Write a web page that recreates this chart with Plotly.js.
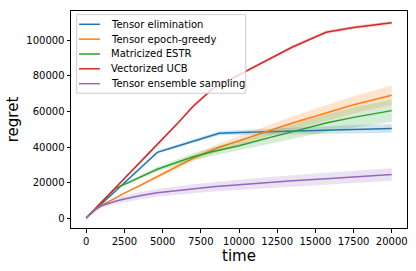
<!DOCTYPE html>
<html>
<head>
<meta charset="utf-8">
<script src="https://cdn.plot.ly/plotly-3.0.1.min.js"></script>
<style>html,body{margin:0;padding:0;background:#fff;}#chart{width:416px;height:271px;}</style>
</head>
<body>
<div id="chart"></div>
<script>
const time = [0, 500, 1000, 1900, 2500, 3500, 4650, 6000, 7000, 8300, 8700, 10000, 12000, 13500, 15700, 17500, 20000];

const seriesNames = ["Tensor elimination", "Tensor epoch-greedy", "Matricized ESTR", "Vectorized UCB", "Tensor ensemble sampling"];

const elimination = [0, 4000, 7950, 15100, 19900, 27850, 37000, 40600, 43300, 46800, 47800, 48200, 48700, 49100, 49600, 50000, 50500];
const eliminationErr = [0, 100, 200, 300, 400, 500, 700, 900, 1000, 1200, 1200, 1400, 1700, 1900, 2200, 2400, 2500];

const epochGreedy = [0, 3900, 7100, 11500, 14000, 18300, 23300, 29300, 33700, 38500, 39900, 43500, 49300, 53500, 59200, 63800, 69200];
const epochGreedyErr = [0, 150, 300, 500, 600, 800, 1100, 1400, 1700, 2100, 2200, 2600, 3200, 3700, 4300, 4800, 5400];

const estr = [0, 4400, 8800, 16700, 19000, 23000, 27500, 31600, 34500, 37500, 38300, 40700, 45300, 48700, 53500, 56700, 60500];
const estrErr = [0, 200, 300, 500, 700, 1000, 1300, 1700, 2000, 2400, 2500, 2900, 3600, 4200, 5000, 5600, 6300];

const ucb = [0, 4400, 8800, 16800, 22000, 31200, 41500, 53500, 63000, 73000, 74800, 80800, 89900, 96300, 104600, 107300, 110000];
const ucbErr = [0, 300, 400, 500, 600, 700, 800, 800, 900, 900, 900, 1000, 1000, 1000, 1000, 1000, 1000];

const ensemble = [0, 4600, 6900, 9500, 10700, 12600, 14200, 15600, 16500, 17600, 17900, 18800, 20100, 21000, 22200, 23200, 24500];
const ensembleErr = [0, 800, 1200, 1600, 1800, 2000, 2200, 2400, 2500, 2600, 2700, 2800, 3000, 3100, 3300, 3400, 3500];

const xTicks = [0, 2500, 5000, 7500, 10000, 12500, 15000, 17500, 20000];
const yTicks = [0, 20000, 40000, 60000, 80000, 100000];

const colors = ["#1f77b4", "#ff7f0e", "#2ca02c", "#d62728", "#9467bd"];
const fills = ["rgba(31,119,180,0.2)", "rgba(255,127,14,0.2)", "rgba(44,160,44,0.2)", "rgba(214,39,40,0.2)", "rgba(148,103,189,0.2)"];
const allMeans = [elimination, epochGreedy, estr, ucb, ensemble];
const allErrs = [eliminationErr, epochGreedyErr, estrErr, ucbErr, ensembleErr];

const traces = [];
allMeans.forEach((m, i) => {
  const e = allErrs[i];
  traces.push({
    x: time, y: m, type: "scatter", mode: "lines", name: seriesNames[i],
    line: {color: colors[i], width: 1.5}, hoverinfo: "skip", showlegend: false
  });
  const upper = m.map((v, k) => v + e[k]);
  const lower = m.map((v, k) => v - e[k]);
  traces.push({
    x: time.concat(time.slice().reverse()),
    y: upper.concat(lower.slice().reverse()),
    type: "scatter", mode: "lines", fill: "toself", fillcolor: fills[i],
    line: {width: 0, color: "rgba(0,0,0,0)"}, showlegend: false, hoverinfo: "skip"
  });
});

// Matplotlib-style legend drawn with shapes + annotations (paper coordinates)
const shapes = [{
  type: "rect", xref: "paper", yref: "paper", layer: "above",
  x0: 0.017, x1: 0.520, y0: 0.621, y1: 0.983,
  fillcolor: "rgba(255,255,255,0.8)", line: {color: "#cccccc", width: 1}
}];
const annotations = [];
seriesNames.forEach((name, i) => {
  const yy = 0.9387 - i * 0.0684;
  shapes.push({
    type: "line", xref: "paper", yref: "paper", layer: "above",
    x0: 0.024, x1: 0.086, y0: yy, y1: yy,
    line: {color: colors[i], width: 1.5}
  });
  annotations.push({
    xref: "paper", yref: "paper", x: 0.112, y: yy, xanchor: "left", yanchor: "middle",
    text: name, showarrow: false, font: {family: "DejaVu Sans", size: 10, color: "#000"}
  });
});

const layout = {
  width: 416, height: 271,
  margin: {l: 71, r: 9, t: 11, b: 43, pad: 0},
  paper_bgcolor: "#ffffff", plot_bgcolor: "#ffffff",
  font: {family: "DejaVu Sans", size: 10, color: "#000"},
  showlegend: false,
  shapes: shapes,
  annotations: annotations,
  xaxis: {
    range: [-1000, 21000], tickvals: xTicks, ticktext: xTicks.map(String),
    showline: true, mirror: true, linecolor: "#000", linewidth: 1,
    ticks: "outside", ticklen: 3.5, tickcolor: "#000", tickwidth: 1,
    showgrid: false, zeroline: false,
    title: {text: "time", font: {size: 15, family: "DejaVu Sans"}, standoff: 4}
  },
  yaxis: {
    range: [-5600, 116600], tickvals: yTicks, ticktext: yTicks.map(String),
    showline: true, mirror: true, linecolor: "#000", linewidth: 1,
    ticks: "outside", ticklen: 3.5, tickcolor: "#000", tickwidth: 1,
    showgrid: false, zeroline: false,
    title: {text: "regret", font: {size: 15, family: "DejaVu Sans"}, standoff: 4}
  }
};

Plotly.newPlot("chart", traces, layout, {staticPlot: true, displayModeBar: false});
</script>
</body>
</html>
